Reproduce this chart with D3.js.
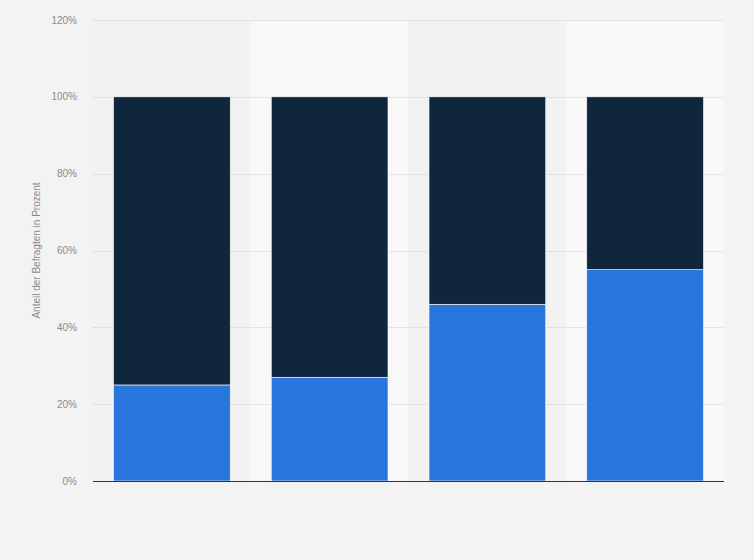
<!DOCTYPE html>
<html>
<head>
<meta charset="utf-8">
<script src="https://cdn.jsdelivr.net/npm/d3@7"></script>
<style>
  body { margin: 0; background: #f3f3f3; }
  svg { display: block; font-family: "Liberation Sans", Arial, sans-serif; }
</style>
</head>
<body>
<div id="chart"></div>
<script>
// Chart data
const categories = ['A', 'B', 'C', 'D'];
const shareBlue = [25, 27, 46, 55];
const shareDark = [75, 73, 54, 45];
const yTicks = [0, 20, 40, 60, 80, 100, 120];

const svgWidth = 754;
const svgHeight = 560;
const margin = { top: 20, right: 30, bottom: 79, left: 93 };
const width = svgWidth - margin.left - margin.right;
const height = svgHeight - margin.top - margin.bottom;

const svg = d3.select('#chart')
    .append('svg')
    .attr('width', svgWidth)
    .attr('height', svgHeight);

svg.append('rect')
    .attr('width', svgWidth)
    .attr('height', svgHeight)
    .attr('fill', '#f3f3f3');

const g = svg.append('g')
    .attr('transform', `translate(${margin.left}, ${margin.top})`);

const xBand = d3.scaleBand().domain(categories).range([0, width]);
const xScale = d3.scaleBand().domain(categories).range([0, width]).paddingInner(0.26).paddingOuter(0.13);
const yScale = d3.scaleLinear().domain([0, 120]).range([height, 0]);

// alternating background stripes
g.selectAll('.stripe')
    .data(categories)
    .enter()
    .append('rect')
    .attr('x', d => xBand(d))
    .attr('y', 0)
    .attr('width', xBand.bandwidth())
    .attr('height', height)
    .attr('fill', (d, i) => i % 2 === 0 ? '#f2f2f2' : '#f8f8f8');

// grid lines
g.selectAll('.grid')
    .data(yTicks.filter(t => t > 0))
    .enter()
    .append('line')
    .attr('x1', 0)
    .attr('x2', width)
    .attr('y1', d => Math.round(yScale(d)) + 0.5)
    .attr('y2', d => Math.round(yScale(d)) + 0.5)
    .attr('stroke', '#d0d0d0')
    .attr('stroke-dasharray', '1,1');

// tick labels
g.selectAll('.tick-label')
    .data(yTicks)
    .enter()
    .append('text')
    .attr('x', -16)
    .attr('y', d => yScale(d))
    .attr('dy', '0.35em')
    .attr('text-anchor', 'end')
    .attr('font-size', 10)
    .attr('fill', '#8a8a8a')
    .text(d => d + '%');

// stacked data
const rows = categories.map((c, i) => ({ cat: c, blue: shareBlue[i], dark: shareDark[i] }));
const series = d3.stack().keys(['blue', 'dark'])(rows);
const colors = { blue: '#2876dd', dark: '#10263d' };

g.selectAll('.series')
    .data(series)
    .enter()
    .append('g')
    .attr('fill', d => colors[d.key])
    .selectAll('rect')
    .data(d => d)
    .enter()
    .append('rect')
    .attr('x', d => xScale(d.data.cat))
    .attr('y', d => yScale(d[1]))
    .attr('width', xScale.bandwidth())
    .attr('height', d => yScale(d[0]) - yScale(d[1]))
    .attr('stroke', '#ffffff')
    .attr('stroke-width', 0.6);

// x axis line
g.append('line')
    .attr('x1', 0)
    .attr('x2', width)
    .attr('y1', height + 0.5)
    .attr('y2', height + 0.5)
    .attr('stroke', '#333')
    .attr('stroke-width', 1);

// y axis title
g.append('text')
    .attr('transform', `translate(${40 - margin.left}, ${height / 2}) rotate(-90)`)
    .attr('text-anchor', 'middle')
    .attr('font-size', 10)
    .attr('fill', '#8a8a8a')
    .text('Anteil der Befragten in Prozent');
</script>
</body>
</html>
